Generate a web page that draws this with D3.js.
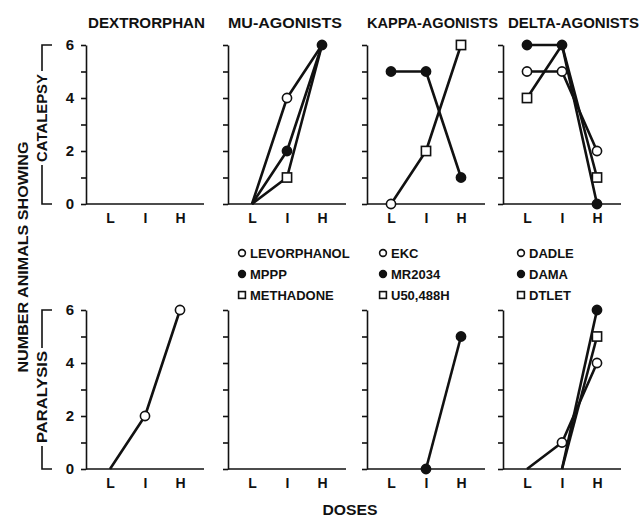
<!DOCTYPE html>
<html><head><meta charset="utf-8">
<script src="https://cdn.jsdelivr.net/npm/d3@7"></script>
<style>
html,body{margin:0;padding:0;background:#fff;}
svg{display:block;}
text{font-family:"Liberation Sans",Arial,sans-serif;font-weight:bold;fill:#111;}
</style></head>
<body>
<script>
// ---------- data ----------
const doses = ["L", "I", "H"];
const panelTitles = ["DEXTRORPHAN", "MU-AGONISTS", "KAPPA-AGONISTS", "DELTA-AGONISTS"];
const yTicks = [0, 1, 2, 3, 4, 5, 6];
const yTickLabels = [0, 2, 4, 6];

// catalepsy (top row)
const levorphanolCat = [0, 4, 6];
const mpppCat        = [0, 2, 6];
const methadoneCat   = [0, 1, 6];
const ekcCat         = [0, null, null];
const mr2034Cat      = [5, 5, 1];
const u50488hCat     = [0, 2, 6];
const dadleCat       = [5, 5, 2];
const damaCat        = [6, 6, 0];
const dtletCat       = [4, 6, 1];
// paralysis (bottom row)
const dextrorphanPar = [0, 2, 6];
const mr2034Par      = [null, 0, 5];
const dadlePar       = [0, 1, 4];
const damaPar        = [null, 0, 6];
const dtletPar       = [null, 0, 5];
// which points carry a visible symbol
const markAll  = [true, true, true];
const markIH   = [false, true, true];
const markI    = [false, true, false];
const markL    = [true, false, false];
const markH    = [false, false, true];
const markLH   = [true, false, true];

const legendMu    = ["LEVORPHANOL", "MPPP", "METHADONE"];
const legendKappa = ["EKC", "MR2034", "U50,488H"];
const legendDelta = ["DADLE", "DAMA", "DTLET"];
const legendSymbols = ["open", "filled", "square"];

// ---------- layout ----------
const W = 644, H = 518;
const panelX = [86, 228, 367, 503];
const panelW = 118;
const rows = [{y0: 204, y6: 45}, {y0: 469, y6: 310}];

const svg = d3.select("body").append("svg").attr("width", W).attr("height", H);

const panels = [
  [ // top row
    [],
    [{v: levorphanolCat, s: "open", m: markI}, {v: methadoneCat, s: "square", m: markI}, {v: mpppCat, s: "filled", m: markIH}],
    [{v: u50488hCat, s: "square", m: markIH}, {v: ekcCat, s: "open", m: markL}, {v: mr2034Cat, s: "filled", m: markAll}],
    [{v: dadleCat, s: "open", m: markAll}, {v: dtletCat, s: "square", m: markLH}, {v: damaCat, s: "filled", m: markAll}]
  ],
  [ // bottom row
    [{v: dextrorphanPar, s: "open", m: markIH}],
    [],
    [{v: mr2034Par, s: "filled", m: markIH}],
    [{v: dadlePar, s: "open", m: markIH}, {v: dtletPar, s: "square", m: markH}, {v: damaPar, s: "filled", m: markH}]
  ]
];

function drawSymbol(g, type, x, y, big) {
  const r = big ? 4.6 : 3.4;
  if (type === "square") {
    g.append("rect").attr("x", x - r).attr("y", y - r).attr("width", 2 * r).attr("height", 2 * r)
      .attr("fill", "#fff").attr("stroke", "#111").attr("stroke-width", 1.6);
  } else {
    g.append("circle").attr("cx", x).attr("cy", y).attr("r", r)
      .attr("fill", type === "filled" ? "#111" : "#fff").attr("stroke", "#111").attr("stroke-width", 1.6);
  }
}

rows.forEach((row, ri) => {
  const y = d3.scaleLinear().domain([0, 6]).range([row.y0, row.y6]);
  panelX.forEach((px, pi) => {
    const x = d3.scalePoint().domain(doses).range([px + 24, px + 94]);
    const g = svg.append("g");
    // y axis
    const ax = g.append("g").attr("transform", `translate(${px},0)`)
      .call(d3.axisLeft(y).tickValues(yTicks).tickSize(5).tickSizeOuter(0)
        .tickFormat(d => (pi === 0 && yTickLabels.includes(d)) ? d : ""));
    ax.select(".domain").attr("stroke", "#111").attr("stroke-width", 1.6);
    ax.selectAll(".tick line").attr("stroke", "#111").attr("stroke-width", 1.6);
    ax.selectAll(".tick text").attr("x", -12).style("font-size", "15px").style("font-family", "Liberation Sans, Arial, sans-serif").style("font-weight", "bold").attr("fill", "#111");
    // x baseline
    g.append("line").attr("x1", px).attr("x2", px + panelW).attr("y1", y(0)).attr("y2", y(0))
      .attr("stroke", "#111").attr("stroke-width", 1.6);
    // x labels
    const xa = g.append("g").attr("transform", `translate(0,${y(0)})`)
      .call(d3.axisBottom(x).tickSize(0).tickPadding(9));
    xa.select(".domain").remove();
    xa.selectAll(".tick text").style("font-size", "14px").style("font-family", "Liberation Sans, Arial, sans-serif").style("font-weight", "bold").attr("fill", "#111");

    const series = panels[ri][pi];
    const line = d3.line().defined(d => d.v !== null).x(d => x(d.d)).y(d => y(d.v));
    series.forEach(s => {
      const pts = doses.map((d, i) => ({d, v: s.v[i], m: s.m[i]}));
      g.append("path").datum(pts).attr("d", line).attr("fill", "none")
        .attr("stroke", "#111").attr("stroke-width", 2.6).attr("stroke-linejoin", "round");
    });
    series.forEach(s => {
      doses.forEach((d, i) => {
        if (s.v[i] !== null && s.m[i]) drawSymbol(g, s.s, x(d), y(s.v[i]), true);
      });
    });
  });
});

// titles
const titleSpec = [{x: 88, w: 117}, {x: 228, w: 114}, {x: 367, w: 131}, {x: 508, w: 131}];
panelTitles.forEach((t, i) => {
  svg.append("text").attr("x", titleSpec[i].x).attr("y", 28).attr("textLength", titleSpec[i].w)
    .attr("lengthAdjust", "spacingAndGlyphs").style("font-size", "14px").text(t);
});

// legends
const legends = [{items: legendMu, x: 242}, {items: legendKappa, x: 383}, {items: legendDelta, x: 521}];
const legendY = [253, 274, 295];
legends.forEach(L => {
  L.items.forEach((name, i) => {
    drawSymbol(svg, legendSymbols[i], L.x, legendY[i], false);
    svg.append("text").attr("x", L.x + 8).attr("y", legendY[i] + 5).style("font-size", "13px").text(name);
  });
});

// y titles with brackets
function bracket(label, top, bottom, textCenter, textLen) {
  const bx = 42;
  const half = textLen / 2 + 3;
  svg.append("path").attr("fill", "none").attr("stroke", "#111").attr("stroke-width", 1.6)
    .attr("d", `M${bx + 10},${top}H${bx}V${textCenter - half}M${bx},${textCenter + half}V${bottom}H${bx + 10}`);
  svg.append("text").attr("transform", `translate(${bx + 5},${textCenter}) rotate(-90)`)
    .attr("text-anchor", "middle").attr("textLength", textLen).attr("lengthAdjust", "spacingAndGlyphs")
    .style("font-size", "14px").text(label);
}
bracket("CATALEPSY", 45, 204, 118, 88);
bracket("PARALYSIS", 310, 469, 397, 92);

svg.append("text").attr("transform", "translate(28,257) rotate(-90)")
  .attr("text-anchor", "middle").attr("textLength", 231).attr("lengthAdjust", "spacingAndGlyphs")
  .style("font-size", "15px").text("NUMBER ANIMALS SHOWING");

svg.append("text").attr("x", 350).attr("y", 515).attr("text-anchor", "middle")
  .attr("textLength", 55).attr("lengthAdjust", "spacingAndGlyphs").style("font-size", "14px").text("DOSES");
</script>
</body></html>
